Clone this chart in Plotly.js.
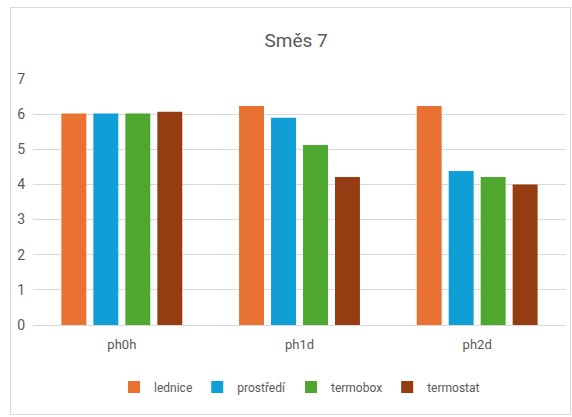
<!DOCTYPE html>
<html>
<head>
<meta charset="utf-8">
<script src="https://cdn.plot.ly/plotly-3.0.1.min.js"></script>
<style>
  body { margin: 0; background: #fff; }
  #smes7 { position: absolute; left: 10px; top: 7px; width: 559px; height: 406px; border: 1px solid #d9d9d9; }
</style>
</head>
<body>
<div id="smes7"></div>
<script>
var kategorie = ['ph0h', 'ph1d', 'ph2d'];
var lednice    = [6.02, 6.23, 6.23];
var prostredi  = [6.02, 5.90, 4.38];
var termobox   = [6.02, 5.12, 4.21];
var termostat  = [6.07, 4.21, 4.00];

var pismo = 'Roboto, "Liberation Sans", Arial, sans-serif';
var seda = '#595959';

function serie(jmeno, hodnoty, barva) {
  return {
    x: kategorie,
    y: hodnoty,
    name: jmeno,
    type: 'bar',
    marker: {color: barva, line: {width: 0}},
    hoverinfo: 'y'
  };
}

var data = [
  serie('lednice', lednice, '#e97132'),
  serie('prostředí', prostredi, '#0f9ed5'),
  serie('termobox', termobox, '#4ea72e'),
  serie('termostat', termostat, '#963c13')
];

var layout = {
  title: {
    text: 'Směs 7',
    font: {family: pismo, size: 19, color: seda},
    x: 0.51, xanchor: 'center',
    y: 0.92, yanchor: 'middle', yref: 'container'
  },
  width: 559,
  height: 406,
  paper_bgcolor: '#ffffff',
  plot_bgcolor: '#ffffff',
  font: {family: pismo, size: 13, color: seda},
  barmode: 'group',
  bargap: 0.28,
  bargroupgap: 0.22,
  showlegend: true,
  legend: {
    orientation: 'h',
    x: 0.5, xanchor: 'center',
    y: -0.252, yanchor: 'middle',
    font: {family: pismo, size: 12, color: seda},
    itemwidth: 30,
    tracegroupgap: 0
  },
  xaxis: {
    showgrid: false,
    showline: false,
    zeroline: false,
    ticks: '',
    ticklabelstandoff: 10,
    tickfont: {family: pismo, size: 13, color: seda}
  },
  yaxis: {
    range: [0, 7],
    dtick: 1,
    gridcolor: '#d9d9d9',
    gridwidth: 1,
    zeroline: true,
    zerolinecolor: '#d9d9d9',
    zerolinewidth: 1,
    showline: false,
    ticks: '',
    ticklabelstandoff: 7,
    tickfont: {family: pismo, size: 14, color: seda}
  },
  margin: {t: 71, b: 89, l: 22, r: 4, autoexpand: false}
};

Plotly.newPlot('smes7', data, layout, {displayModeBar: false, staticPlot: true});
</script>
</body>
</html>
